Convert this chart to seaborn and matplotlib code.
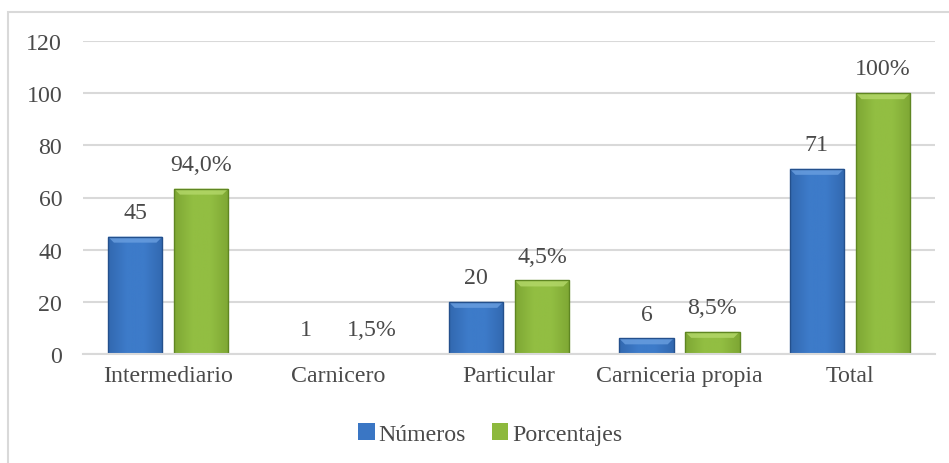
import matplotlib
matplotlib.use("Agg")
import matplotlib.pyplot as plt
import seaborn as sns
import numpy as np
import pandas as pd
from matplotlib.patches import Rectangle, Polygon
from matplotlib.colors import LinearSegmentedColormap

# ---- data ----
categories = ["Intermediario", "Carnicero", "Particular", "Carniceria propia", "Total"]
numeros = [45, 0, 20, 6, 71]
porcentajes = [63.4, 0, 28.2, 8.5, 100]
numeros_labels = ["45", "1", "20", "6", "71"]
porcentajes_labels = ["94,0%", "1,5%", "4,5%", "8,5%", "100%"]
series_names = ["Números", "Porcentajes"]

df = pd.DataFrame({
    "cat": categories * 2,
    "serie": [series_names[0]] * 5 + [series_names[1]] * 5,
    "valor": numeros + porcentajes,
})

sns.set_style("white")
plt.rcParams["font.family"] = ["Liberation Serif", "DejaVu Serif"]

FS = 17.2
TXT = "#4a4a4a"

fig = plt.figure(figsize=(9.49, 4.64), dpi=100)
ax = fig.add_axes([83 / 949, 1 - 355 / 464, (935 - 83) / 949, (355 - 42) / 464])

base_colors = ["#3a76c4", "#8db93d"]
sns.barplot(data=df, x="cat", y="valor", hue="serie", palette=base_colors,
            width=0.775, gap=0.174, ax=ax, legend=True, saturation=1,
            edgecolor="none", linewidth=0)

ax.set_ylim(0, 120)
ax.set_xlim(-0.5, 4.5)
ax.set_yticks([0, 20, 40, 60, 80, 100, 120])
ax.set_xlabel("")
ax.set_ylabel("")
ax.grid(axis="y", color="#d9d9d9", linewidth=1.5)
ax.set_axisbelow(True)
for s in ["top", "right", "left"]:
    ax.spines[s].set_visible(False)
ax.spines["bottom"].set_color("#d9d9d9")
ax.spines["bottom"].set_linewidth(1.5)
ax.tick_params(axis="both", length=0, labelsize=FS, colors=TXT)
ax.tick_params(axis="y", pad=15)
ax.tick_params(axis="x", pad=8)

# subtle bevel look for bars
grad_specs = [
    ("#3268b0", "#3d7bc9", "#24508c", "#6a9fe0"),
    ("#7ea734", "#92be42", "#5f8622", "#b4d86a"),
]
bar_patches = [p for p in ax.patches if isinstance(p, Rectangle) and p.get_width() > 0]
n = len(categories)
px_per_y = (355 - 42) / 120.0
px_per_x = (935 - 83) / 5.0
bev = 6.0
for i, p in enumerate(bar_patches[:2 * n]):
    s = i // n
    c_edge, c_mid, c_dark, c_light = grad_specs[s]
    x0, y0 = p.get_x(), p.get_y()
    w, h = p.get_width(), p.get_height()
    if h <= 0:
        continue
    cmap = LinearSegmentedColormap.from_list("g", [c_edge, c_mid, c_mid, c_edge])
    grad = np.linspace(0, 1, 64).reshape(1, -1)
    z = p.get_zorder()
    im = ax.imshow(grad, extent=[x0, x0 + w, y0, y0 + h], aspect="auto",
                   cmap=cmap, zorder=z + 0.1, origin="lower")
    im.set_clip_path(p)
    bx = bev / px_per_x
    by = min(bev / px_per_y, h / 2)
    top = y0 + h
    ax.add_patch(Polygon([(x0, top), (x0 + w, top), (x0 + w - bx, top - by), (x0 + bx, top - by)],
                         closed=True, facecolor=c_light, edgecolor="none", alpha=0.8, zorder=z + 0.15))
    ax.add_patch(Rectangle((x0, y0), w, h, fill=False, edgecolor=c_dark,
                           linewidth=1.0, zorder=z + 0.2))

# data labels
for s, labels in enumerate([numeros_labels, porcentajes_labels]):
    for j, lab in enumerate(labels):
        p = bar_patches[s * n + j]
        ax.annotate(lab, (p.get_x() + p.get_width() / 2, p.get_height()),
                    xytext=(0, 17.5), textcoords="offset points",
                    ha="center", va="center", fontsize=FS, color=TXT)

ax.set_xlim(-0.5, 4.5)
ax.set_ylim(0, 120)

# legend
handles, labels = ax.get_legend_handles_labels()
ax.legend_.remove()
fig.legend(handles, labels, loc="center", bbox_to_anchor=(490 / 949, 1 - 435 / 464),
           ncol=2, frameon=False, fontsize=FS, handlelength=0.7, handleheight=0.7,
           handletextpad=0.15, columnspacing=1.1, labelcolor=TXT)

# outer border
fig.patches.append(Rectangle((8 / 949, -0.1), 1.2, 1 - 13 / 464 + 0.1,
                             transform=fig.transFigure, fill=False,
                             edgecolor="#d9d9d9", linewidth=1.5))

fig.savefig("out.png", dpi=100)
